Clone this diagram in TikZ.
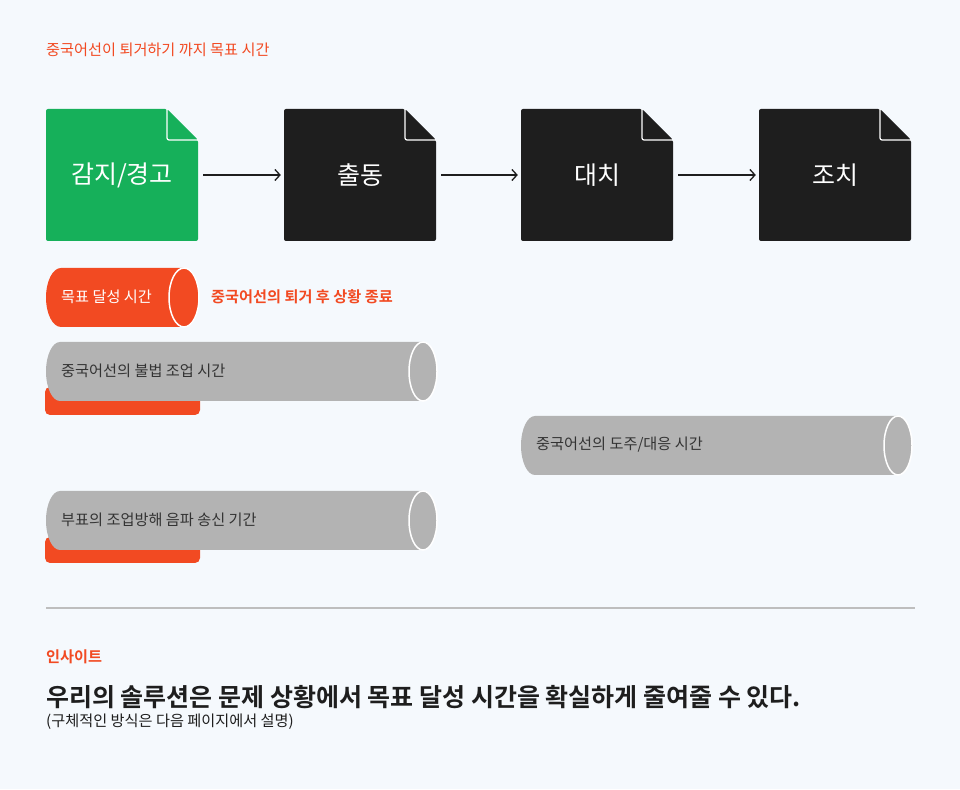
\documentclass[tikz,border=0pt]{standalone}
\usepackage{fontspec}
\setmainfont{Noto Sans CJK KR}[BoldFont={Noto Sans CJK KR Bold}]
\usetikzlibrary{arrows.meta}
\definecolor{bg}{HTML}{F5F9FD}
\definecolor{accent}{HTML}{F24A22}
\definecolor{docgreen}{HTML}{16B05A}
\definecolor{docblack}{HTML}{1E1E1E}
\definecolor{cylgray}{HTML}{B3B3B3}
\definecolor{txtdark}{HTML}{333333}
\tikzset{
  doctext/.style={minimum width=152pt, minimum height=132pt, inner sep=0pt, text=white, font=\fontsize{25}{28}\selectfont},
  arr/.style={draw=docblack, line width=1.3pt, -{Straight Barb[length=5pt,width=11pt]}, shorten <=5pt, shorten >=3pt},
  lbl/.style={anchor=west, inner sep=0pt, font=\fontsize{15.2}{17}\selectfont},
  cyltext/.style={lbl, text=txtdark},
  bar/.style={fill=accent, rounded corners=5pt},
}
\newcommand{\docbox}[4]{%
  \fill[#2, rounded corners=2pt] (#1,548) -- (#1,680) -- ({#1+121},680) -- ({#1+152},649) -- ({#1+152},548) -- cycle;
  \draw[white, line width=1.2pt, rounded corners=2pt] ({#1+121},680) -- ({#1+121},649) -- ({#1+152},649);
  \node[doctext] (#3) at ({#1+76},614) {#4};}
\newcommand{\cylshape}[5]{%
  \fill[#4] ({#2-#5},{#3+29.5}) -- ({#1+#5},{#3+29.5}) arc[start angle=90,end angle=270,x radius=#5,y radius=29.5] -- ({#2-#5},{#3-29.5}) arc[start angle=-90,end angle=90,x radius=#5,y radius=29.5] -- cycle;
  \draw[white, line width=1.5pt, fill=#4] ({#2-#5},#3) ellipse[x radius=#5, y radius=29.5];}
\begin{document}
\begin{tikzpicture}[x=1pt,y=1pt]
\fill[bg] (0,0) rectangle (960,789);
\useasboundingbox (0,0) rectangle (960,789);

\node[lbl, text=accent] (title) at (46,739) {중국어선이 퇴거하기 까지 목표 시간};

\docbox{46}{docgreen}{b1}{감지/경고}
\docbox{284}{docblack}{b2}{출동}
\docbox{521}{docblack}{b3}{대치}
\docbox{759}{docblack}{b4}{조치}
\draw[arr] (b1.east) -- (b2.west);
\draw[arr] (b2.east) -- (b3.west);
\draw[arr] (b3.east) -- (b4.west);

% target time cylinder
\cylshape{46}{199}{491.5}{accent}{15}
\node[lbl, text=white] (goal) at (61,492) {목표 달성 시간};
\node[lbl, text=accent, font=\fontsize{15.2}{17}\selectfont\bfseries] (goalnote) at (211,492) {중국어선의 퇴거 후 상황 종료};

% illegal fishing
\fill[bar] (45,374) rectangle (200,402);
\cylshape{46}{437}{417.5}{cylgray}{14}
\node[cyltext] (c1) at (61,418) {중국어선의 불법 조업 시간};

% escape
\cylshape{521}{912}{343.5}{cylgray}{14}
\node[cyltext] (c2) at (536,344) {중국어선의 도주/대응 시간};

% buoy
\fill[bar] (45,226) rectangle (200,252);
\cylshape{46}{437}{268.5}{cylgray}{14}
\node[cyltext] (c3) at (61,269) {부표의 조업방해 음파 송신 기간};

\draw[draw=cylgray!85, line width=2pt] (46,181) -- (915,181);

\node[lbl, text=accent, font=\fontsize{15.2}{17}\selectfont\bfseries] (ins) at (46,132) {인사이트};
\node[lbl, text=docblack, font=\fontsize{25}{28}\selectfont\bfseries] (main) at (46,92) {우리의 솔루션은 문제 상황에서 목표 달성 시간을 확실하게 줄여줄 수 있다.};
\node[lbl, text=docblack] (sub) at (46,67) {(구체적인 방식은 다음 페이지에서 설명)};
\end{tikzpicture}
\end{document}
